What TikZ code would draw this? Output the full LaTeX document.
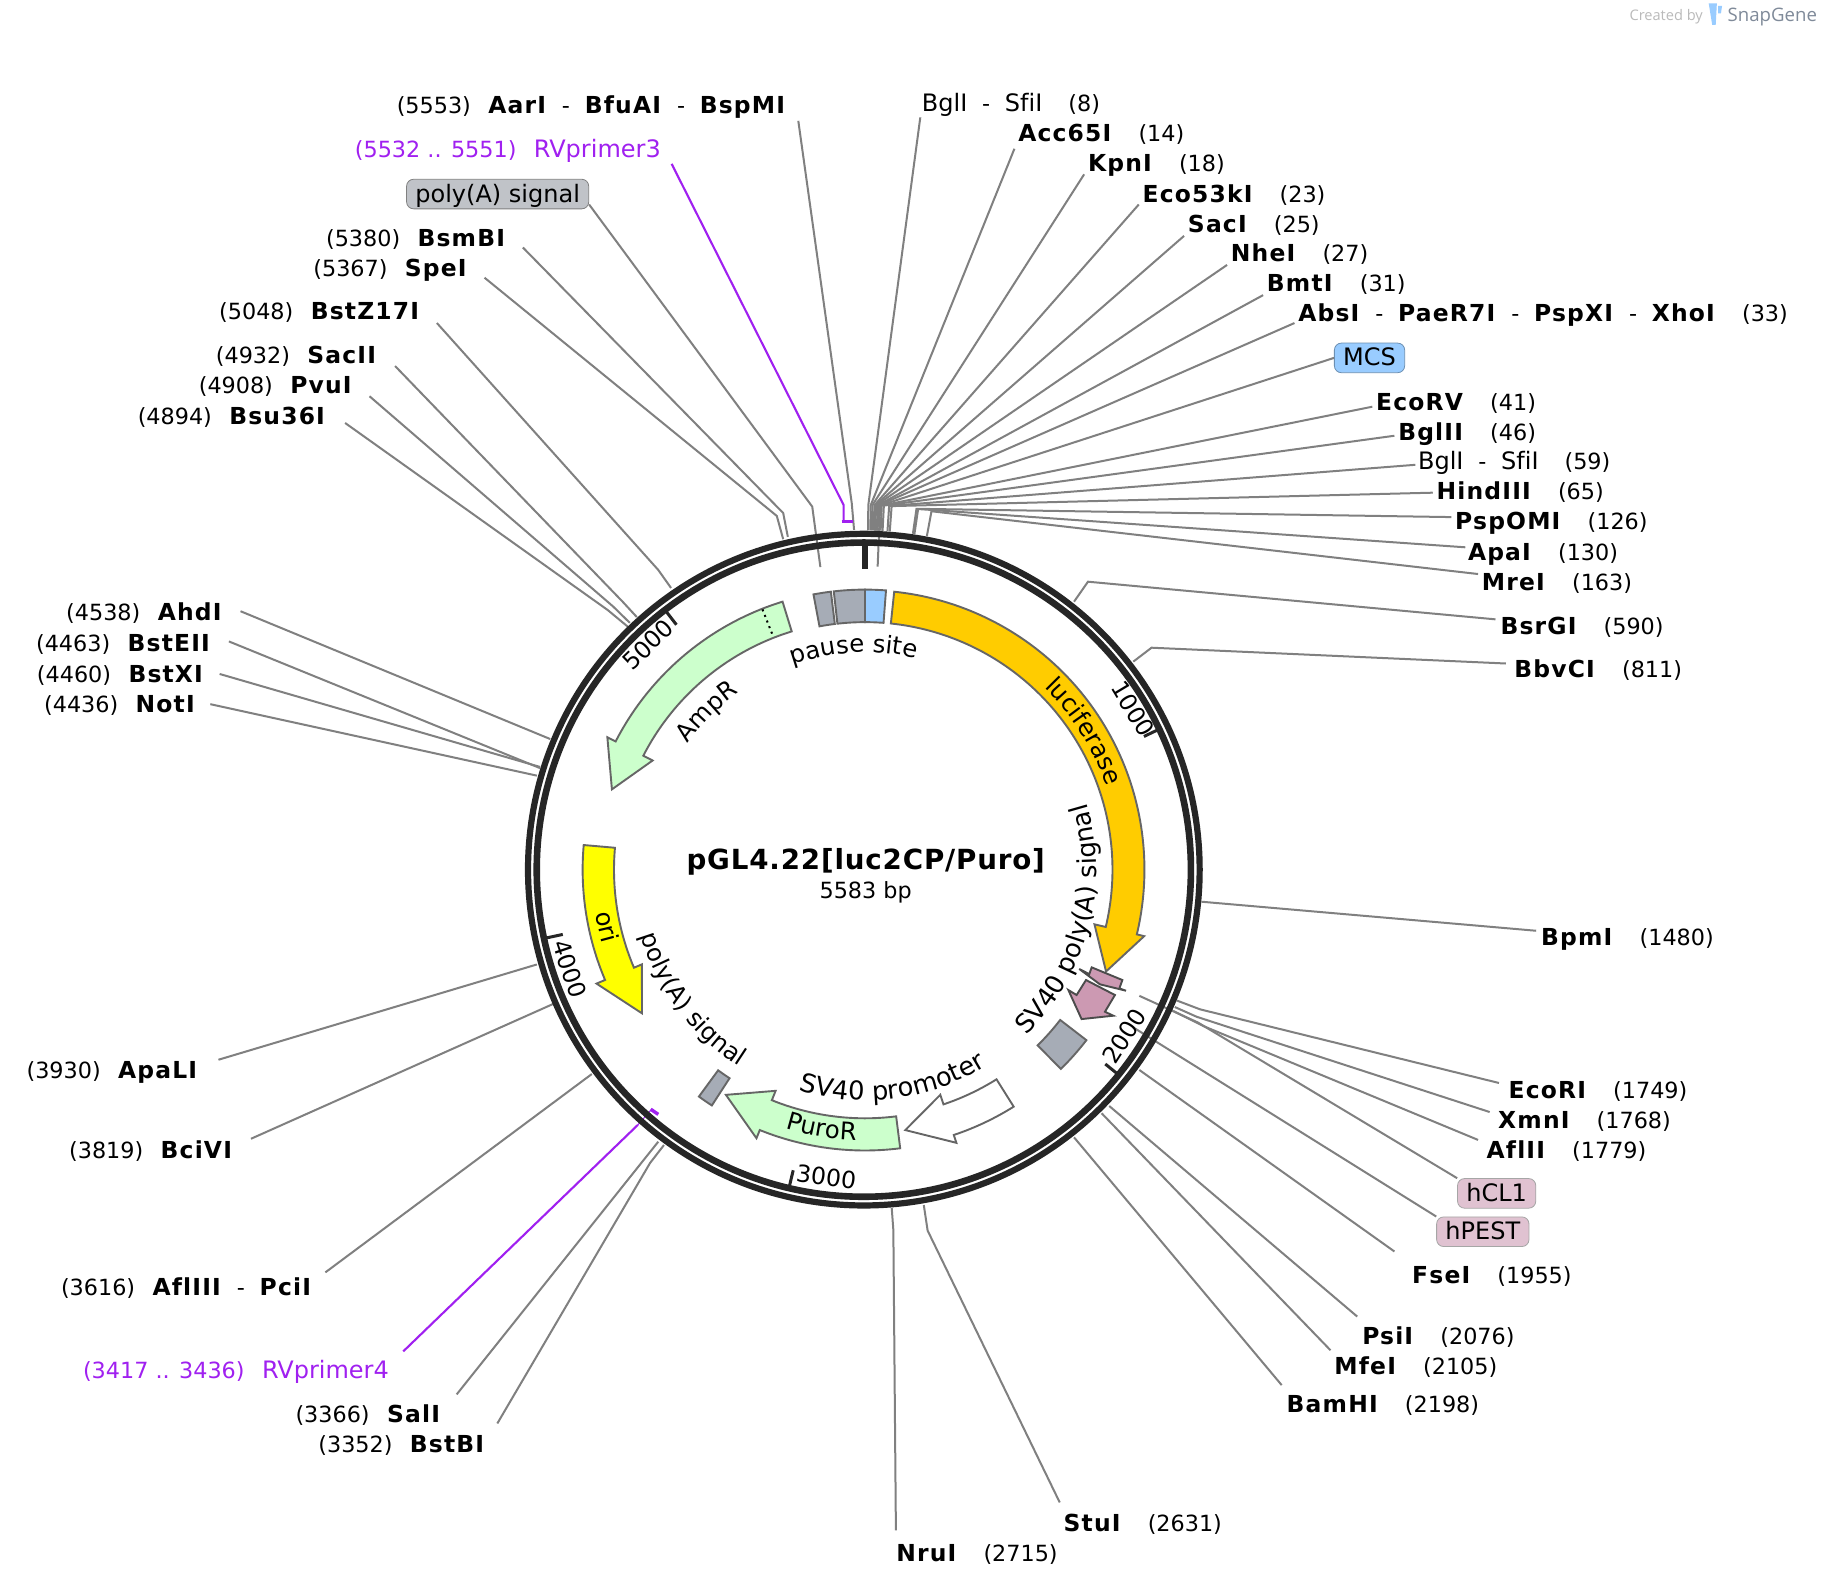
\documentclass[tikz,border=0pt]{standalone}
\usepackage{fontspec}
\setmainfont{DejaVu Sans}[Ligatures=NoCommon, BoldFeatures={Scale=1.05,LetterSpace=5}]
\newfontfamily\logofont{Open Sans}
\newfontfamily\titlefont{DejaVu Sans Bold}[LetterSpace=3]
\usetikzlibrary{decorations.text}
\newcommand{\labelfont}{\fontsize{11.15pt}{13pt}\selectfont}
\newcommand{\namefont}{\fontsize{12pt}{13pt}\selectfont}
\newcommand{\rg}[1]{{\namefont #1}}
\newcommand{\dsh}{\hspace{7.4pt}-\hspace{7.4pt}}
\newcommand{\gapr}{\hspace{13pt}}
\newcommand{\gapl}{\hspace{8.7pt}}
\definecolor{ringcol}{HTML}{262626}
\definecolor{armcol}{HTML}{808080}
\definecolor{primercol}{HTML}{A020F0}
\definecolor{edgecol}{HTML}{666666}
\definecolor{greyfill}{HTML}{A6ACB6}
\definecolor{pillgrey}{HTML}{C0C3C8}
\definecolor{snapcol}{HTML}{7F8A99}
\definecolor{bluefill}{HTML}{99CCFF}
\definecolor{lucfill}{HTML}{FFCC00}
\definecolor{greenfill}{HTML}{CCFFCC}
\definecolor{orifill}{HTML}{FFFF00}
\definecolor{pinkfill}{HTML}{CC99B2}
\tikzset{
  sitelab/.style={inner sep=0pt, text height=10.5pt, text depth=2.4pt},
  pill/.style={draw, rounded corners=3.5pt, inner xsep=4.4pt, inner ysep=0pt,
     minimum height=14.8pt, text height=10.5pt, text depth=2.4pt, font=\namefont},
  arm/.style={armcol, line width=1pt},
  primer/.style={primercol, line width=1.05pt},
  ring/.style={ringcol, line width=3.1pt},
  ticknum/.style={ringcol, line width=1.5pt},
  feature/.style={draw=edgecol, line width=0.95pt, line join=miter},
  numlab/.style={inner sep=0pt, font=\fontsize{11.8pt}{13pt}\selectfont},
  arclab/.style={decoration={text along path, text align=center,
     text={|\fontsize{12.2pt}{14pt}\selectfont|#1}}, decorate},
  arclabwide/.style={decoration={text along path, text align=center,
     text={|\fontsize{12.9pt}{14pt}\selectfont|#1}}, decorate},
}
\begin{document}
\begin{tikzpicture}[x=0.581pt, y=-0.581pt, every node/.style={font=\labelfont}]
   \useasboundingbox[fill=white] (0,0) rectangle (1568,1368.4);

   % logo
   \node[anchor=west, inner sep=0pt, text=black!27, font=\logofont\fontsize{7.3pt}{9pt}\selectfont] (created) at (1402,14.5) {Created by};
   \node[anchor=west, inner sep=0pt, text=snapcol, font=\logofont\fontsize{9.3pt}{11pt}\selectfont] (snap) at (1486.5,14.5) {SnapGene};
   \fill[bluefill] (1470.5,3) -- (1477.5,3) -- (1476.5,21.5) -- (1473.5,21.5) -- cycle;
   \fill[bluefill] (1478.5,5) -- (1482,5) -- (1481,11.5) -- (1478.5,11.5) -- cycle;

   % top left labels
   \node[sitelab, anchor=east] (aar) at (677,91) {(5553)\gapl\textbf{AarI}\dsh\textbf{BfuAI}\dsh\textbf{BspMI}};
   \node[sitelab, anchor=east, text=primercol] (rv3) at (569,129) {(5532 .. 5551)\gapl\rg{RVprimer3}};
   \node[pill, draw=armcol, fill=pillgrey, anchor=east] (polya) at (507,167) {poly(A) signal};
   \node[sitelab, anchor=east] (bsmb) at (436,205) {(5380)\gapl\textbf{BsmBI}};
   \node[sitelab, anchor=east] (spe) at (403,231) {(5367)\gapl\textbf{SpeI}};
   \node[sitelab, anchor=east] (bstz) at (362,268) {(5048)\gapl\textbf{BstZ17I}};
   \node[sitelab, anchor=east] (sac2) at (325,306) {(4932)\gapl\textbf{SacII}};
   \node[sitelab, anchor=east] (pvu) at (304,332) {(4908)\gapl\textbf{PvuI}};
   \node[sitelab, anchor=east] (bsu) at (281,358) {(4894)\gapl\textbf{Bsu36I}};

   % left labels
   \node[sitelab, anchor=east] (ahd) at (192,527) {(4538)\gapl\textbf{AhdI}};
   \node[sitelab, anchor=east] (bste) at (182,554) {(4463)\gapl\textbf{BstEII}};
   \node[sitelab, anchor=east] (bstx) at (176,580) {(4460)\gapl\textbf{BstXI}};
   \node[sitelab, anchor=east] (not) at (169,606) {(4436)\gapl\textbf{NotI}};
   \node[sitelab, anchor=east] (apal) at (171,921) {(3930)\gapl\textbf{ApaLI}};
   \node[sitelab, anchor=east] (bci) at (201,990) {(3819)\gapl\textbf{BciVI}};
   \node[sitelab, anchor=east] (pci) at (269,1108) {(3616)\gapl\textbf{AflIII}\dsh\textbf{PciI}};
   \node[sitelab, anchor=east, text=primercol] (rv4) at (335,1179) {(3417 .. 3436)\gapl\rg{RVprimer4}};
   \node[sitelab, anchor=east] (sal) at (380,1217) {(3366)\gapl\textbf{SalI}};
   \node[sitelab, anchor=east] (bstb) at (418,1243) {(3352)\gapl\textbf{BstBI}};

   % bottom and right labels
   \node[sitelab, anchor=west] (nru) at (771,1337) {\textbf{NruI}\gapr(2715)};
   \node[sitelab, anchor=west] (stu) at (915,1311) {\textbf{StuI}\gapr(2631)};
   \node[sitelab, anchor=west] (bam) at (1107,1209) {\textbf{BamHI}\gapr(2198)};
   \node[sitelab, anchor=west] (mfe) at (1148,1176) {\textbf{MfeI}\gapr(2105)};
   \node[sitelab, anchor=west] (psi) at (1172,1150) {\textbf{PsiI}\gapr(2076)};
   \node[sitelab, anchor=west] (fse) at (1215,1098) {\textbf{FseI}\gapr(1955)};
   \node[pill, draw=gray!70, fill=pinkfill!60, anchor=west] (hpest) at (1236,1060) {hPEST};
   \node[pill, draw=gray!70, fill=pinkfill!60, anchor=west] (hcl) at (1254,1027) {hCL1};
   \node[sitelab, anchor=west] (afl2) at (1279,990) {\textbf{AflII}\gapr(1779)};
   \node[sitelab, anchor=west] (xmn) at (1289,964) {\textbf{XmnI}\gapr(1768)};
   \node[sitelab, anchor=west] (ecor1) at (1298,938) {\textbf{EcoRI}\gapr(1749)};
   \node[sitelab, anchor=west] (bpm) at (1326,807) {\textbf{BpmI}\gapr(1480)};
   \node[sitelab, anchor=west] (bbv) at (1303,576) {\textbf{BbvCI}\gapr(811)};
   \node[sitelab, anchor=west] (bsrg) at (1291,539) {\textbf{BsrGI}\gapr(590)};
   \node[sitelab, anchor=west] (mre) at (1275,501) {\textbf{MreI}\gapr(163)};
   \node[sitelab, anchor=west] (apa) at (1263,475) {\textbf{ApaI}\gapr(130)};
   \node[sitelab, anchor=west] (psp) at (1252,449) {\textbf{PspOMI}\gapr(126)};
   \node[sitelab, anchor=west] (hind) at (1236,423) {\textbf{HindIII}\gapr(65)};
   \node[sitelab, anchor=west] (bgl59) at (1220,397) {\rg{BglI}\dsh\rg{SfiI}\gapr(59)};
   \node[sitelab, anchor=west] (bgl2) at (1203,372) {\textbf{BglII}\gapr(46)};
   \node[sitelab, anchor=west] (ecov) at (1184,346) {\textbf{EcoRV}\gapr(41)};
   \node[pill, draw=bluefill!70!black, fill=bluefill, anchor=west] (mcs) at (1148,308) {MCS};
   \node[sitelab, anchor=west] (abs) at (1117,270) {\textbf{AbsI}\dsh\textbf{PaeR7I}\dsh\textbf{PspXI}\dsh\textbf{XhoI}\gapr(33)};
   \node[sitelab, anchor=west] (bmt) at (1090,244) {\textbf{BmtI}\gapr(31)};
   \node[sitelab, anchor=west] (nhe) at (1059,218) {\textbf{NheI}\gapr(27)};
   \node[sitelab, anchor=west] (sac1) at (1022,193) {\textbf{SacI}\gapr(25)};
   \node[sitelab, anchor=west] (eco53) at (983,167) {\textbf{Eco53kI}\gapr(23)};
   \node[sitelab, anchor=west] (kpn) at (936,141) {\textbf{KpnI}\gapr(18)};
   \node[sitelab, anchor=west] (acc) at (876,115) {\textbf{Acc65I}\gapr(14)};
   \node[sitelab, anchor=west] (bgl8) at (793,89) {\rg{BglI}\dsh\rg{SfiI}\gapr(8)};

   % arms, left side
   \coordinate (caar) at (735,456);    \draw[arm] (aar.east) ++(10,13) -- (733,433) -- (caar);
   \coordinate (cpolya) at (706,488);  \draw[arm] (polya.east) ++(0,9) -- (699,436) -- (cpolya);
   \coordinate (cbsmb) at (678,462);   \draw[arm] (bsmb.east) ++(14,8) -- (674,441.5) -- (cbsmb);
   \coordinate (cspe) at (674,464);    \draw[arm] (spe.east) ++(14,8) -- (668.5,444) -- (cspe);
   \coordinate (cbstz) at (577.5,506); \draw[arm] (bstz.east) ++(14,10) -- (566.5,490.5) -- (cbstz);
   \coordinate (csac2) at (548,531);   \draw[arm] (sac2.east) ++(15,9) -- (536,518) -- (csac2);
   \coordinate (cpvu) at (542,536);    \draw[arm] (pvu.east) ++(14,9) -- (527.7,522) -- (cpvu);
   \coordinate (cbsu) at (540.5,539.5);\draw[arm] (bsu.east) ++(16,6) -- (523,525) -- (cbsu);
   \coordinate (cahd) at (473.5,636);  \draw[arm] (ahd.east) ++(15,-1) -- (cahd);
   \coordinate (cbste) at (464.7,661); \draw[arm] (bste.east) ++(15,-2) -- (cbste);
   \coordinate (cbstx) at (464.7,660); \draw[arm] (bstx.east) ++(13,0) -- (cbstx);
   \coordinate (cnot) at (462,667.5);  \draw[arm] (not.east) ++(12,0) -- (cnot);
   \coordinate (capal) at (462,830);   \draw[arm] (apal.east) ++(17,-9) -- (capal);
   \coordinate (cbci) at (476,864);    \draw[arm] (bci.east) ++(15,-10) -- (cbci);
   \coordinate (cpci) at (509.3,924.3);\draw[arm] (pci.east) ++(11,-13) -- (cpci);
   \coordinate (csal) at (566.5,982.5);\draw[arm] (sal.east) ++(13,-17) -- (csal);
   \coordinate (cbstb) at (571.4,985.4);\draw[arm] (bstb.east) ++(10,-18) -- (559.4,1000.9) -- (cbstb);

   % arms, bottom and right
   \coordinate (cnru) at (767.4,1039.6);\draw[arm] (nru.west) ++(0,-20) -- (768.8,1058.5) -- (cnru);
   \coordinate (cstu) at (795,1037);   \draw[arm] (stu.west) ++(-3,-18) -- (798.3,1059) -- (cstu);
   \coordinate (cbam) at (924.3,978.8);\draw[arm] (bam.west) ++(-4,-17) -- (cbam);
   \coordinate (cmfe) at (948,958);    \draw[arm] (mfe.west) ++(-3,-14) -- (cmfe);
   \coordinate (cpsi) at (954.6,951.8);\draw[arm] (psi.west) ++(-4,-17) -- (cpsi);
   \coordinate (cfse) at (980.5,920.8);\draw[arm] (fse.west) ++(-15,-21) -- (cfse);
   \coordinate (chpest) at (975,884);  \draw[arm] (hpest.north west) -- (chpest);
   \coordinate (chcl) at (980.5,857);  \draw[arm] (hcl.north west) -- (1031,880) -- (chcl);
   \coordinate (cafl2) at (1009.7,870);\draw[arm] (afl2.west) ++(-7,-9) -- (1035.6,883) -- (cafl2);
   \coordinate (cxmn) at (1011,866.6); \draw[arm] (xmn.west) ++(-7,-7) -- (1029.8,875) -- (cxmn);
   \coordinate (cecor1) at (1012.7,861);\draw[arm] (ecor1.west) ++(-8,-6) -- (1032.7,868.6) -- (cecor1);
   \coordinate (cbpm) at (1034,776);   \draw[arm] (bpm.west) ++(-4,-6) -- (cbpm);
   \coordinate (cbbv) at (975.3,569.4);\draw[arm] (bbv.west) ++(-7,-5) -- (991,557.4) -- (cbbv);
   \coordinate (cbsrg) at (924.3,517.8);\draw[arm] (bsrg.west) ++(-4,-6) -- (936.3,500.6) -- (cbsrg);

   % primers
   \coordinate (crv3) at (726,449);
   \draw[primer] (rv3.east) ++(9,12) -- (726,434.6) -- (crv3);
   \draw[primer, line width=1.7pt] (724.5,449) -- (734,449);
   \coordinate (crv4) at (549,968);
   \draw[primer] (rv4.east) ++(12,-16) -- (crv4);
   \draw[primer, line width=0.5pt] (crv4) -- (560.8,954.6);
   \draw[primer, line width=1.7pt] (560,954.6) -- (566.5,959);

   \begin{scope}[shift={(744.4,748.4)}]
      % arms fanning out at the top
      \coordinate (cbgl8) at (-89.48:292);  \draw[arm] (bgl8.west) ++(-1,12) -- (-89.48:313.7) -- (cbgl8);
      \coordinate (cacc) at (-89.10:292);   \draw[arm] (acc.west) ++(-3,13) -- (-89.10:313.7) -- (cacc);
      \coordinate (ckpn) at (-88.84:292);   \draw[arm] (kpn.west) ++(-3,9) -- (-88.84:313.7) -- (ckpn);
      \coordinate (ceco53) at (-88.52:292); \draw[arm] (eco53.west) ++(-3,9) -- (-88.52:313.7) -- (ceco53);
      \coordinate (csac1) at (-88.39:292);  \draw[arm] (sac1.west) ++(-3,10) -- (-88.39:313.7) -- (csac1);
      \coordinate (cnhe) at (-88.26:292);   \draw[arm] (nhe.west) ++(-3,10) -- (-88.26:313.7) -- (cnhe);
      \coordinate (cbmt) at (-88.00:292);   \draw[arm] (bmt.west) ++(-3,10) -- (-88.00:313.7) -- (cbmt);
      \coordinate (cabs) at (-87.87:292);   \draw[arm] (abs.west) ++(-3,8) -- (-87.87:313.7) -- (cabs);
      \coordinate (cmcs) at (-87.61:261);   \draw[arm] (mcs.west) -- (-87.61:313.7) -- (cmcs);
      \coordinate (cecov) at (-87.36:292);  \draw[arm] (ecov.west) ++(-3,4) -- (-87.36:313.7) -- (cecov);
      \coordinate (cbgl2) at (-87.03:292);  \draw[arm] (bgl2.west) ++(-3,3) -- (-87.03:313.7) -- (cbgl2);
      \coordinate (cbgl59) at (-86.20:292); \draw[arm] (bgl59.west) ++(-2,3) -- (-86.20:313.7) -- (cbgl59);
      \coordinate (chind) at (-85.81:292);  \draw[arm] (hind.west) ++(-3,1) -- (-85.81:313.7) -- (chind);
      \coordinate (cpsp) at (-81.88:292);   \draw[arm] (psp.west) ++(-3,-4) -- (-81.88:313.7) -- (cpsp);
      \coordinate (capa) at (-81.62:292);   \draw[arm] (apa.west) ++(-2,-4) -- (-81.62:313.7) -- (capa);
      \coordinate (cmre) at (-79.49:292);   \draw[arm] (mre.west) ++(-3,-7) -- (-79.49:313.7) -- (cmre);

      % backbone
      \draw[ring] (-1,0) circle (289);
      \draw[ring, line width=3.3pt] (-1,0) circle (281.5);
      \draw[ringcol, line width=2.65pt] (-90:281) -- (-90:258.5);
      \draw[ticknum] (-25.52:281) -- (-25.52:266);
      \draw[ticknum] (38.97:281) -- (38.97:266);
      \draw[ticknum] (103.43:281) -- (103.43:266);
      \draw[ticknum] (167.90:281) -- (167.90:266);
      \draw[ticknum] (232.40:281) -- (232.40:266);
      \node[numlab, rotate=-59] (n1000) at (-31:269) {1000};
      \node[numlab, rotate=57.3] (n2000) at (32.7:265) {2000};
      \node[numlab, rotate=-7.2] (n3000) at (97.2:266.3) {3000};
      \node[numlab, rotate=-71.4] (n4000) at (161.4:268) {4000};
      \node[numlab, rotate=44] (n5000) at (226:269) {5000};

      % features
      \draw[feature, fill=greyfill] (-100.6:241) arc (-100.6:-97:241) -- (-97:213) arc (-97:-100.6:213) -- cycle;
      \draw[feature, fill=greyfill] (-96.4:241) arc (-96.4:-90:241) -- (-90:213) arc (-90:-96.4:213) -- cycle;
      \draw[feature, fill=bluefill] (-90:241) arc (-90:-85.7:241) -- (-85.7:213) arc (-85.7:-90:213) -- cycle;
      \draw[feature, fill=lucfill] (-84:240.5) arc (-84:13.4:240.5) -- (13.4:247) -- (22.9:225.2) -- (13.4:203) -- (13.4:213) arc (13.4:-84:213) -- cycle;
      \draw[feature, fill=greyfill] (37.6:240.5) arc (37.6:45.5:240.5) -- (45.5:212) arc (45.5:37.6:212) -- cycle;
      \draw[feature, fill=white] (57.9:240.8) arc (57.9:71.5:240.8) -- (71.5:247.9) -- (81.2:226.8) -- (71.5:204.3) -- (71.5:213) arc (71.5:57.9:213) -- cycle;
      \draw[feature, fill=greenfill] (82.8:241.7) arc (82.8:112:241.7) -- (112:249.3) -- (121.7:227.8) -- (112:205.3) -- (112:214) arc (112:82.8:214) -- cycle;
      \draw[feature, fill=greyfill] (123:242) arc (123:126.2:242) -- (126.2:214) arc (126.2:123:214) -- cycle;
      \draw[feature, fill=orifill] (-175:243) arc (-175:-203:243) -- (-203:251) -- (-212.8:228.3) -- (-203:208.6) -- (-203:216) arc (-203:-175:216) -- cycle;
      \draw[feature, fill=greenfill] (-107.1:241.3) arc (-107.1:-152.8:241.3) -- (-152.8:249.3) -- (-162.4:228.5) -- (-152.8:205.5) -- (-152.8:214.5) arc (-152.8:-107.1:214.5) -- cycle;
      \draw[black, line width=1pt, dotted] (-111.5:240.7) -- (-111.5:215);
   \end{scope}

   % pink features
   \draw[draw=black!70, line width=0.95pt, fill=pinkfill] (939.5,832.5) -- (965.9,843.4) -- (963.3,850.6) -- (969,852.6) -- (946.6,847.1) -- (928.8,833.9) -- (937.4,838.3) -- cycle;
   \draw[draw=black!70, line width=0.95pt, fill=pinkfill] (934.6,843.4) -- (959.5,856.3) -- (950.9,870.7) -- (958.1,874.1) -- (930.8,877) -- (919.4,852) -- (926.5,856.3) -- cycle;

   \begin{scope}[shift={(744.4,748.4)}]
      % labels along the features
      \path[arclab={pause site}] (-115:187) arc (-115:-71:187);
      \path[arclab={luciferase}] (-50:220) arc (-50:-14.5:220);
      \path[arclab={AmpR}] (-150:187) arc (-150:-120:187);
      \path[arclabwide={SV40 poly(A) signal}] (50:199) arc (50:-21:199);
      \path[arclabwide={SV40 promoter}] (112:198.5) arc (112:53:198.5);
      \path[arclab={PuroR}] (112.4:233) arc (112.4:86.5:233);
      \path[arclab={poly(A) signal}] (172:201) arc (172:114:201);
      \path[arclab={ori}] (177:235) arc (177:158:235);
   \end{scope}

   % name of the plasmid
   \node[inner sep=0pt, font=\titlefont\fontsize{13.86pt}{15pt}\selectfont] (title) at (745,742) {pGL4.22[luc2CP/Puro]};
   \node[inner sep=0pt, below=0pt] (size) at (745,758) {5583 bp};
\end{tikzpicture}
\end{document}
